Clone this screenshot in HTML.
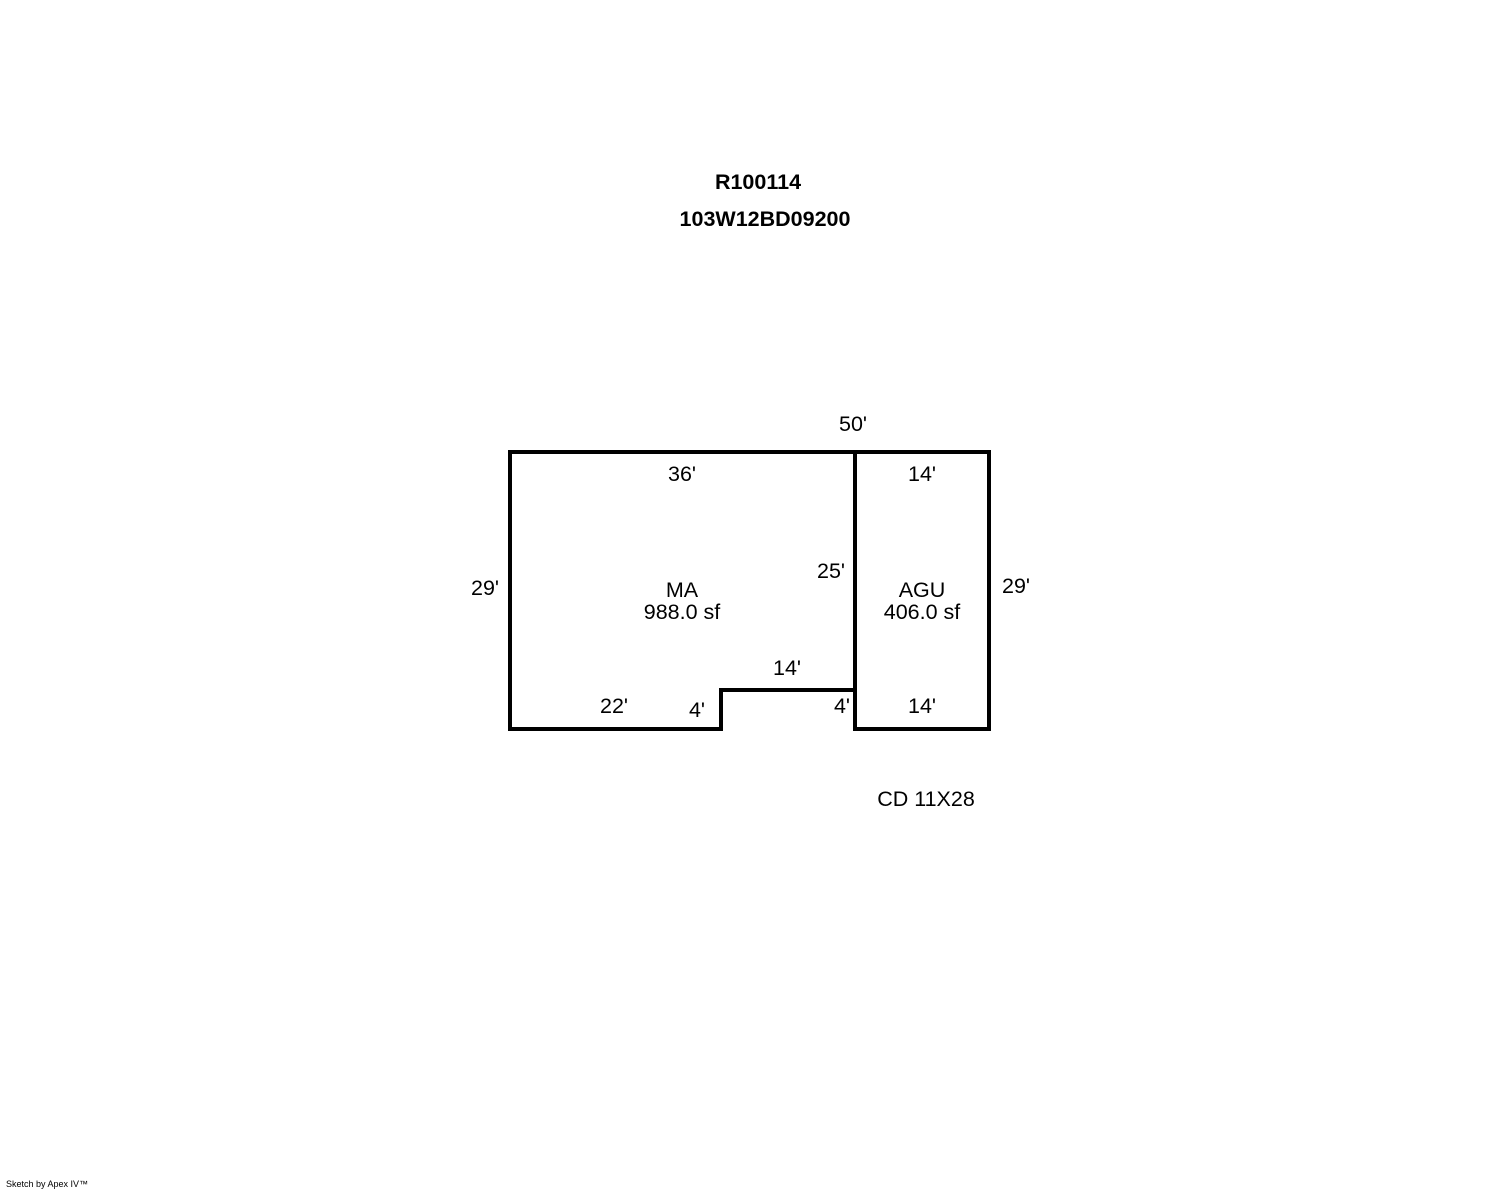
<!DOCTYPE html>
<html><head><style>
body{margin:0;background:#fff;width:1488px;height:1190px;overflow:hidden}
svg{display:block}
text{font-family:"Liberation Sans",Arial,sans-serif;font-size:21.5px;fill:#000}
</style></head><body>
<svg width="1488" height="1190" viewBox="0 0 1488 1190">
<g fill="none" stroke="#000" stroke-width="4" stroke-linejoin="miter">
<path d="M510 452 H989 V729 H855 V690 H721 V729 H510 Z"/>
<path d="M855 452 V729"/>
</g>
<text x="758" y="189" text-anchor="middle" font-weight="bold" style="font-size:21.5px">R100114</text>
<text x="765" y="226" text-anchor="middle" font-weight="bold" style="font-size:21.5px">103W12BD09200</text>
<text x="853" y="431" text-anchor="middle">50'</text>
<text x="682" y="481" text-anchor="middle">36'</text>
<text x="922" y="481" text-anchor="middle">14'</text>
<text x="485" y="595" text-anchor="middle">29'</text>
<text x="1016" y="593" text-anchor="middle">29'</text>
<text x="831" y="578" text-anchor="middle">25'</text>
<text x="682" y="597" text-anchor="middle">MA</text>
<text x="682" y="619" text-anchor="middle">988.0 sf</text>
<text x="922" y="597" text-anchor="middle">AGU</text>
<text x="922" y="619" text-anchor="middle">406.0 sf</text>
<text x="787" y="675" text-anchor="middle">14'</text>
<text x="614" y="713" text-anchor="middle">22'</text>
<text x="697" y="717" text-anchor="middle">4'</text>
<text x="842" y="713" text-anchor="middle">4'</text>
<text x="922" y="713" text-anchor="middle">14'</text>
<text x="926" y="806" text-anchor="middle">CD 11X28</text>
<text x="6" y="1187" style="font-size:9px">Sketch by Apex IV™</text>
</svg>
</body></html>
